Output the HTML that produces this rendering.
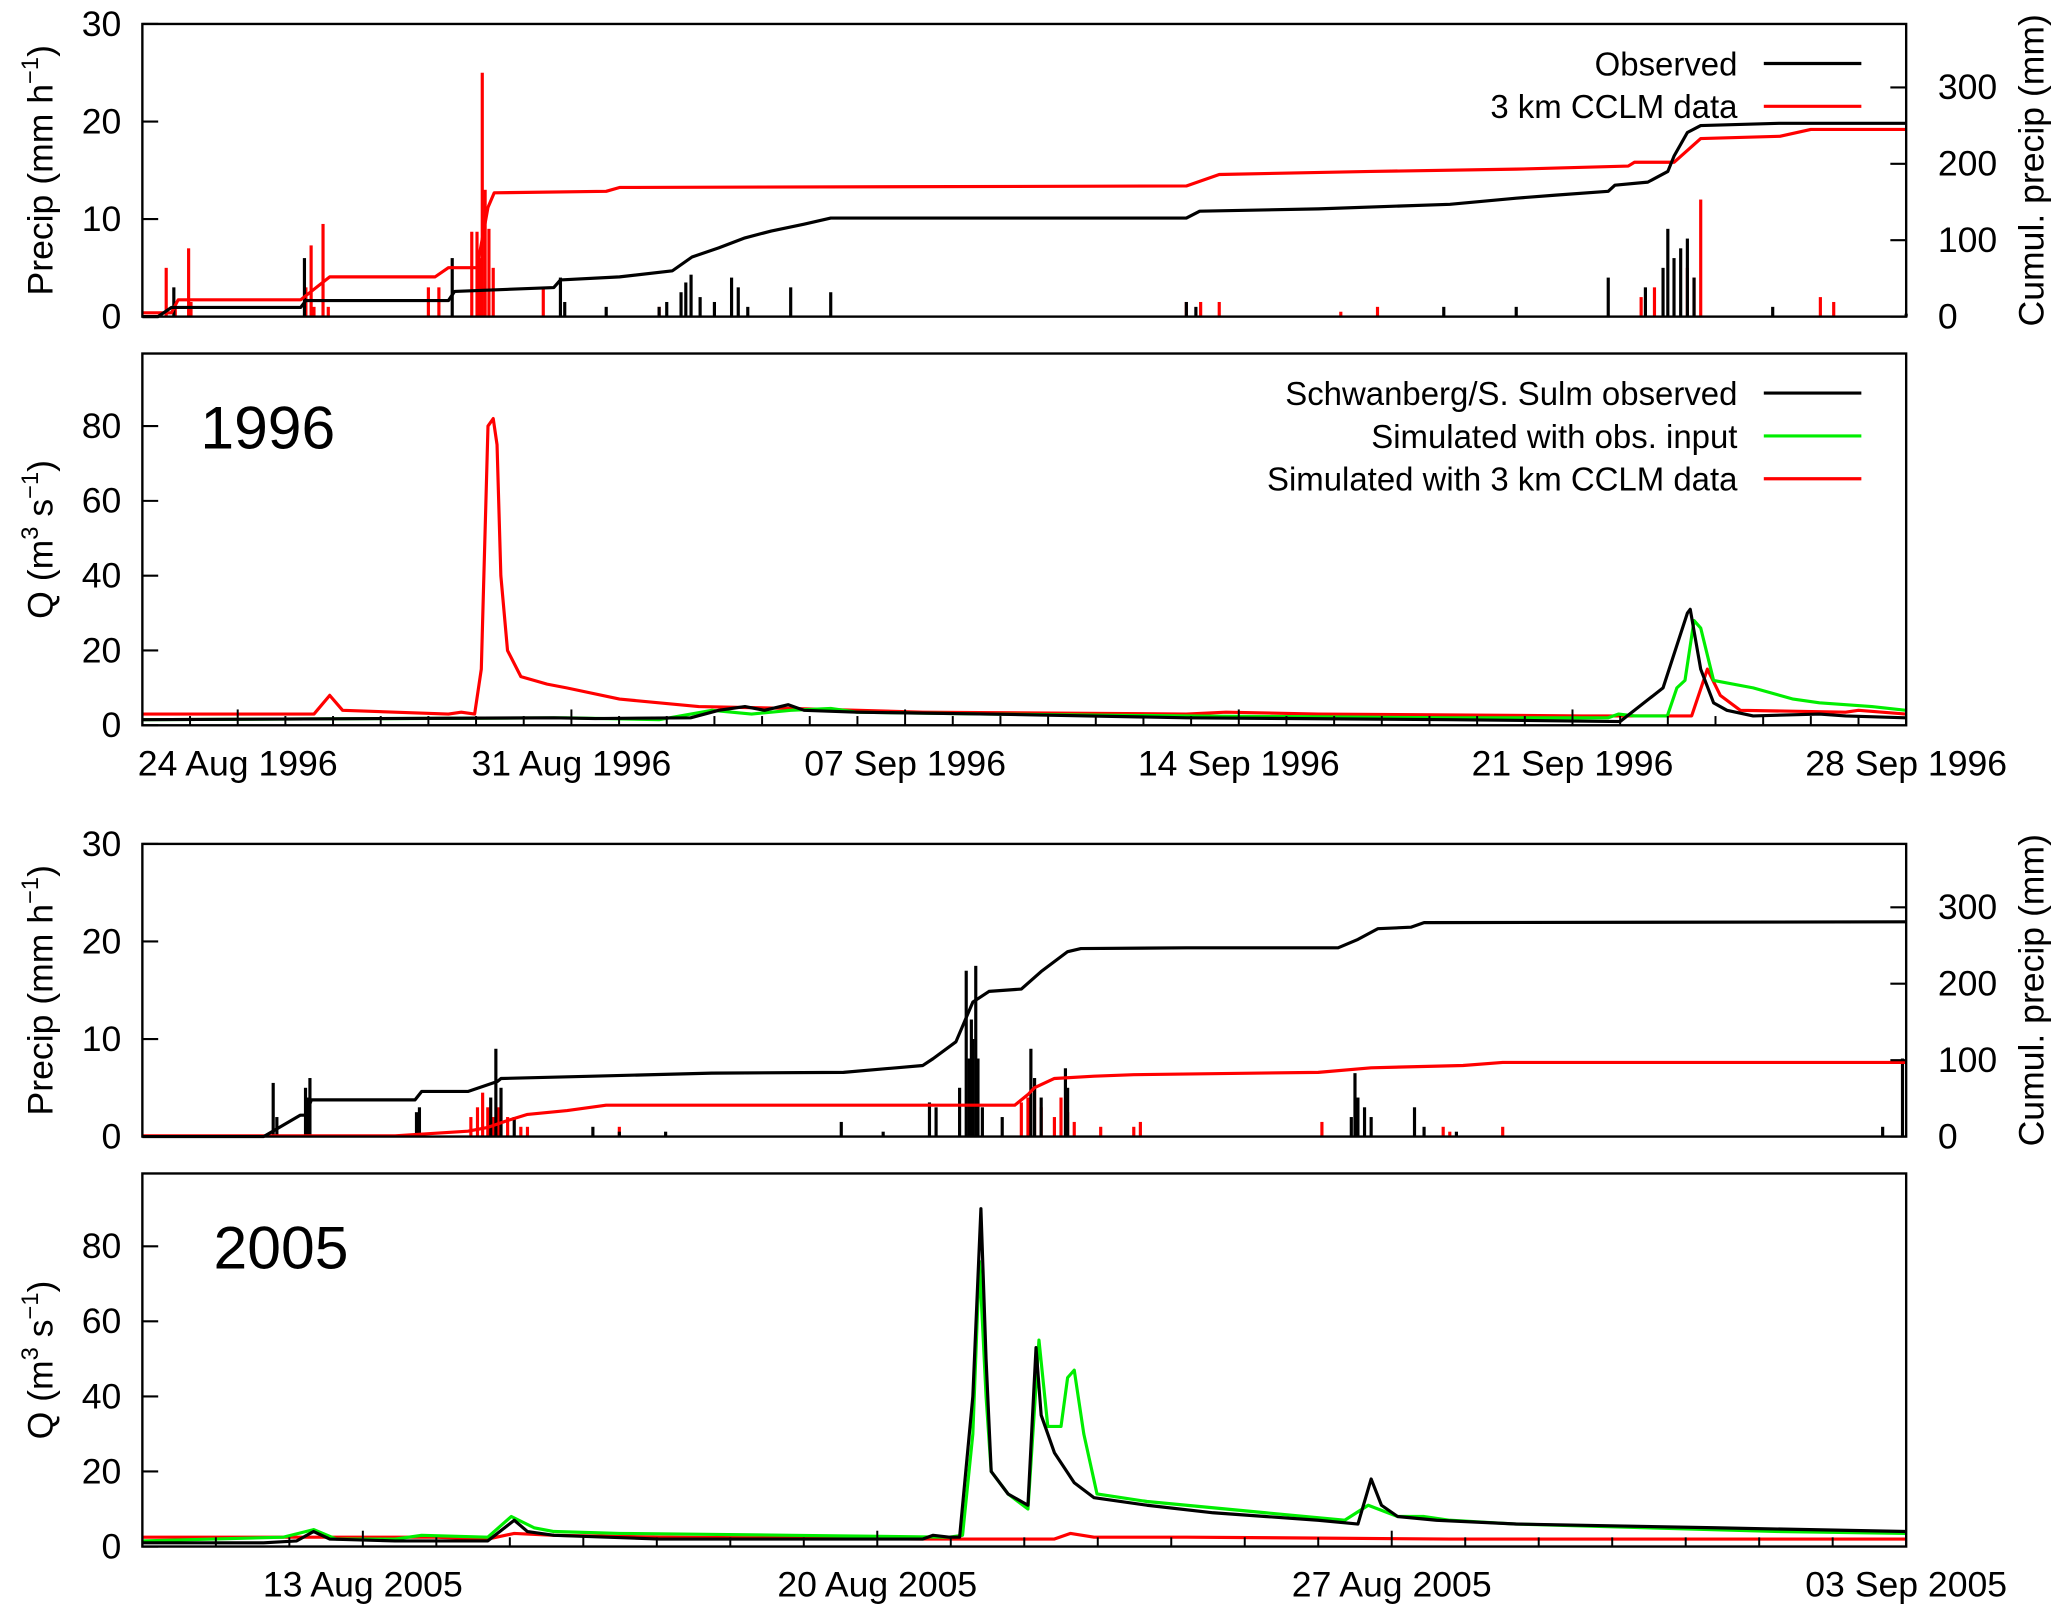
<!DOCTYPE html>
<html><head><meta charset="utf-8"><style>
html,body{margin:0;padding:0;background:#fff}
svg{display:block;font-family:"Liberation Sans",sans-serif}
</style></head><body>
<svg id="chart" width="2067" height="1614" viewBox="0 0 1568 1224" xmlns="http://www.w3.org/2000/svg"></svg>
<script>
// ===== 1996 data (day 0 = 22 Aug 1996 00:00) =====
const obsCum96=[[0,0],[0.33,0],[0.61,12],[3.32,12],[3.43,21],[6.42,21],[6.55,33],[8.63,38],[8.77,48],[10.01,52],[11.12,60],[11.53,78],[12.09,90],[12.64,103],[13.19,112],[13.88,121],[14.44,129],[21.9,129],[22.18,138],[24.67,141],[27.43,147],[28.82,155],[29.65,159],[30.75,164],[30.89,172],[31.58,176],[32.0,190],[32.13,210],[32.41,241],[32.69,250],[34.35,253],[37,253]];
const cclmCum96=[[0,5],[0.61,5],[0.75,22],[3.32,22],[3.93,52],[6.14,52],[6.42,64],[7.02,64],[7.25,143],[7.38,162],[9.73,164],[10.01,169],[21.9,171],[22.59,186],[25.77,190],[28.82,193],[31.17,197],[31.3,202],[32.13,202],[32.69,233],[34.35,236],[35.0,245],[37,245]];
const obsBars96=[[0.66,3],[3.4,6],[6.5,6],[8.77,4],[8.86,1.5],[9.73,1],[10.84,1],[11.0,1.5],[11.3,2.5],[11.4,3.5],[11.51,4.3],[11.7,2],[12.0,1.5],[12.36,4],[12.5,3],[12.7,1],[13.6,3],[14.44,2.5],[21.9,1.5],[22.1,1],[27.3,1],[28.82,1],[30.75,4],[31.53,3],[31.9,5],[32.0,9],[32.13,6],[32.27,7],[32.41,8],[32.55,4],[34.2,1],[37.0,0.3]];
const cclmBars96=[[0.5,5],[0.69,1],[0.97,7],[1.02,1.5],[3.43,3],[3.54,7.3],[3.6,1],[3.79,9.5],[3.9,1],[6.0,3],[6.22,3],[6.91,8.7],[7.02,8.7],[7.08,6],[7.13,25],[7.19,13],[7.27,9],[7.36,5],[8.41,3],[10.84,1],[21.9,1.5],[22.2,1.5],[22.59,1.5],[25.14,0.5],[25.91,1],[31.44,2],[31.72,3],[32.41,5],[32.55,4],[32.69,12],[35.2,2],[35.48,1.5]];
const obsQ96=[[0,1.5],[8.63,2],[9.5,1.8],[11.5,2],[12.09,4],[12.64,5],[13.05,4],[13.55,5.5],[13.88,4],[14.99,3.5],[17.75,3],[21.9,2],[27.43,1.5],[31.0,1],[31.9,10],[32.41,30],[32.47,31],[32.69,15],[32.96,6],[33.24,4],[33.79,2.5],[35.18,3],[35.73,2.5],[37,2]];
const simObsQ96=[[0,1.5],[8.9,2],[10.84,1.5],[11.95,4],[12.78,3],[13.6,4],[14.44,4.5],[14.99,3.5],[17.75,3],[21.9,2.5],[27.43,2],[30.75,2],[30.97,3],[31.3,2.5],[31.99,2.5],[32.19,10],[32.36,12],[32.55,28],[32.69,26],[32.96,12],[33.79,10],[34.63,7],[35.18,6],[36.28,5],[37,4]];
const cclmQ96=[[0,3],[3.6,3],[3.93,8],[4.2,4],[6.42,3],[6.69,3.5],[6.97,3],[7.11,15],[7.25,80],[7.36,82],[7.44,75],[7.52,40],[7.66,20],[7.94,13],[8.49,11],[8.9,10],[10.01,7],[11.67,5],[13.6,4.5],[16.37,3.5],[21.9,3],[22.73,3.5],[24.67,3],[30.2,2.5],[32.5,2.5],[32.83,15],[33.1,8],[33.52,4],[35.73,3.5],[36.0,4],[37,3]];
// ===== 2005 data (day 0 = 10 Aug 2005 00:00) =====
const obsCum05=[[0,0],[1.65,0],[1.74,5],[1.83,10],[2.15,28],[2.22,28],[2.30,48],[3.71,48],[3.80,59],[4.43,59],[4.83,72],[4.88,76],[6.13,79],[7.75,83],[9.54,84],[10.26,90],[10.62,93],[10.76,102],[11.07,124],[11.30,176],[11.52,190],[11.96,193],[12.23,216],[12.59,242],[12.77,246],[14.21,247],[16.27,247],[16.54,258],[16.81,272],[17.26,274],[17.44,280],[24,281]];
const cclmCum05=[[0,1],[3.44,1],[4.43,7],[4.70,12],[4.97,21],[5.24,29],[5.78,34],[6.31,41],[11.87,41],[12.05,55],[12.14,64],[12.41,76],[12.95,79],[13.49,81],[16.0,84],[16.72,90],[17.97,93],[18.51,97],[24,97]];
const obsBars05=[[1.78,5.5],[1.83,2],[2.22,5],[2.24,4],[2.28,6],[3.73,2.5],[3.77,3],[4.74,4],[4.81,9],[4.88,5],[5.06,2],[6.13,1],[6.49,0.5],[7.12,0.5],[9.51,1.5],[10.08,0.5],[10.71,3.5],[10.80,3],[11.12,5],[11.21,17],[11.25,8],[11.28,12],[11.30,10],[11.34,17.5],[11.37,8],[11.43,3],[11.70,2],[12.09,9],[12.14,6],[12.23,4],[12.56,7],[12.59,5],[16.45,2],[16.50,6.5],[16.54,4],[16.63,3],[16.72,2],[17.31,3],[17.44,1],[17.88,0.5],[23.68,1],[23.95,8]];
const cclmBars05=[[4.47,2],[4.56,3],[4.63,4.5],[4.70,3],[4.77,2],[4.84,3],[4.97,2],[5.15,1],[5.24,1],[6.49,1],[11.96,3.5],[12.05,4],[12.14,5],[12.23,3],[12.41,2],[12.50,4],[12.59,2.5],[12.68,1.5],[13.04,1],[13.49,1],[13.58,1.5],[16.05,1.5],[17.70,1],[17.79,0.5],[18.51,1]];
const obsQ05=[[0,1],[1.65,1],[2.10,1.5],[2.33,4],[2.55,2],[3.44,1.5],[4.70,1.5],[5.06,7],[5.24,4],[5.60,3],[7.03,2],[10.62,2],[10.76,3],[10.98,2.5],[11.12,2.5],[11.30,40],[11.41,90],[11.48,50],[11.55,20],[11.78,14],[12.05,11],[12.16,53],[12.23,35],[12.41,25],[12.68,17],[12.95,13],[13.67,11],[14.57,9],[15.28,8],[16.0,7],[16.54,6],[16.72,18],[16.86,11],[17.08,8],[17.61,7],[18.69,6],[21.38,5],[24,4]];
const simObsQ05=[[0,1.5],[1.92,2.5],[2.33,4.5],[2.64,2],[3.44,2],[3.80,3],[4.70,2.5],[5.02,8],[5.33,5],[5.60,4],[6.49,3.5],[8.83,3],[10.98,2.5],[11.16,3],[11.30,30],[11.39,76],[11.48,40],[11.55,20],[11.78,14],[12.05,10],[12.20,55],[12.32,32],[12.50,32],[12.59,45],[12.68,47],[12.81,30],[12.99,14],[13.67,12],[15.28,9],[16.36,7],[16.68,11],[17.08,8],[17.44,8],[17.79,7],[18.69,6],[20.48,5],[22.28,4],[24,3.5]];
const cclmQ05=[[0,2.5],[3.98,2.5],[4.70,2],[5.06,3.5],[5.60,3],[7.03,2.5],[10.62,2],[12.41,2],[12.63,3.5],[12.95,2.5],[14.21,2.5],[17.79,2],[24,2]];
// ===== ticks =====
const precipTicks=[0,10,20,30];
const cumTicks=[0,100,200,300];
const qTicks=[0,20,40,60,80];
const dateLabels96=["24 Aug 1996","31 Aug 1996","07 Sep 1996","14 Sep 1996","21 Sep 1996","28 Sep 1996"];
const dateDays96=[2,9,16,23,30,37];
const dateLabels05=["13 Aug 2005","20 Aug 2005","27 Aug 2005","03 Sep 2005"];
const dateDays05=[3,10,17,24];

const svg=document.getElementById('chart');
const NS='http://www.w3.org/2000/svg';
function mk(tag,attrs,parent,text){const e=document.createElementNS(NS,tag);for(const k in attrs)e.setAttribute(k,attrs[k]);if(text!==undefined)e.textContent=text;(parent||svg).appendChild(e);return e;}
const X0=108,X1=1446;
function xs(nDays){return d=>X0+d*(X1-X0)/nDays;}
function ys(top,bot,max){return v=>bot-v*(bot-top)/max;}
const RED='#ff0000',GREEN='#00ee00',BLACK='#000';

function line(g,data,x,y,color,name){
  const d=data.map((p,i)=>(i?'L':'M')+x(p[0]).toFixed(2)+' '+y(p[1]).toFixed(2)).join('');
  const p=mk('path',{d:d,fill:'none',stroke:color,'stroke-width':2.4,'stroke-linejoin':'round'},g);
  
  
}
function bars(g,data,x,y,color,nDays,name){
  const grp=mk('g',{},g);
  
  
  const w=Math.max(2.4,(X1-X0)/nDays/24);
  data.forEach(p=>{const r=mk('rect',{x:(x(p[0])-w/2).toFixed(2),y:y(p[1]).toFixed(2),width:w.toFixed(2),height:(y(0)-y(p[1])).toFixed(2),fill:color},grp);
    
    });
}
function frame(g,top,bot,name){
  const r=mk('rect',{x:X0,y:top,width:X1-X0,height:bot-top,fill:'none',stroke:'#000','stroke-width':1.8},g);
  
  
}
function leftTicks(g,ticks,y){
  ticks.forEach(t=>{mk('line',{x1:X0,x2:X0+12,y1:y(t),y2:y(t),stroke:'#000','stroke-width':1.6},g);
    const tx=mk('text',{x:92,y:y(t)+9,'text-anchor':'end','font-size':27},g,String(t));
    
    });
}
function rightTicks(g,ticks,y){
  ticks.forEach(t=>{mk('line',{x1:X1-12,x2:X1,y1:y(t),y2:y(t),stroke:'#000','stroke-width':1.6},g);
    const tx=mk('text',{x:1470,y:y(t)+9,'font-size':27},g,String(t));
    
    });
}
function dayTicks(g,nDays,bot,majors,labels,x){
  for(let d=1;d<nDays;d++){const maj=majors.includes(d);
    mk('line',{x1:x(d),x2:x(d),y1:bot,y2:bot-(maj?12:7),stroke:'#000','stroke-width':1.5},g);}
  majors.forEach((d,i)=>{const t=mk('text',{x:x(d),y:bot+38,'text-anchor':'middle','font-size':27},g,labels[i]);
    
    });
}
function ylabel(g,cx,cy,kind){
  const t=mk('text',{transform:`translate(${cx},${cy}) rotate(-90)`,'text-anchor':'middle','font-size':27},g);
  if(kind==='precip'){t.appendChild(document.createTextNode('Precip (mm h'));mk('tspan',{dy:-11,'font-size':18},t,'−1');mk('tspan',{dy:11},t,')');}
  else if(kind==='q'){t.appendChild(document.createTextNode('Q (m'));mk('tspan',{dy:-11,'font-size':18},t,'3');mk('tspan',{dy:11},t,' s');mk('tspan',{dy:-11,'font-size':18},t,'−1');mk('tspan',{dy:11},t,')');}
  else {t.textContent='Cumul. precip (mm)';}
  
}
function legend(g,items,y0){
  items.forEach((it,i)=>{const y=y0+i*32.5;
    const t=mk('text',{x:1318,y:y+9,'text-anchor':'end','font-size':25},g,it[0]);
    
    
    const l=mk('line',{x1:1338,x2:1412,y1:y,y2:y,stroke:it[1],'stroke-width':2.4},g);
    
    });
}
function precipPanel(top,bot,nDays,oc,cc,ob,cb,name,withLegend){
  const g=mk('g',{});
  const x=xs(nDays),yp=ys(top,bot,30),yc=ys(top,bot,383);
  bars(g,cb,x,yp,RED,nDays,'cclm-precip-bars');
  bars(g,ob,x,yp,BLACK,nDays,'observed-precip-bars');
  line(g,cc,x,yc,RED,'cclm-cumulative-line');
  line(g,oc,x,yc,BLACK,'observed-cumulative-line');
  frame(g,top,bot,'plot-frame');
  leftTicks(g,precipTicks,yp);
  rightTicks(g,cumTicks,yc);
  ylabel(g,40,(top+bot)/2,'precip');
  ylabel(g,1550,(top+bot)/2,'cum');
  if(withLegend)legend(g,[['Observed',BLACK],['3 km CCLM data',RED]],48);
}
function qPanel(top,bot,nDays,o,s,c,name,year,yx,yy,majors,labels,withLegend){
  const g=mk('g',{});
  const x=xs(nDays),y=ys(top,bot,99.4);
  line(g,c,x,y,RED,'sim-cclm-discharge');
  line(g,s,x,y,GREEN,'sim-obs-discharge');
  line(g,o,x,y,BLACK,'observed-discharge');
  frame(g,top,bot,'plot-frame');
  leftTicks(g,qTicks,y);
  dayTicks(g,nDays,bot,majors,labels,x);
  ylabel(g,40,(top+bot)/2,'q');
  const t=mk('text',{x:yx,y:yy,'font-size':46},g,year);
  if(withLegend)legend(g,[['Schwanberg/S. Sulm observed',BLACK],['Simulated with obs. input',GREEN],['Simulated with 3 km CCLM data',RED]],298);
}
precipPanel(18,240,37,obsCum96,cclmCum96,obsBars96,cclmBars96,'precip-panel-1996',true);
qPanel(268,550,37,obsQ96,simObsQ96,cclmQ96,'discharge-panel-1996','1996',152,340,dateDays96,dateLabels96,true);
precipPanel(640,862,24,obsCum05,cclmCum05,obsBars05,cclmBars05,'precip-panel-2005',false);
qPanel(890,1173,24,obsQ05,simObsQ05,cclmQ05,'discharge-panel-2005','2005',162,962,dateDays05,dateLabels05,false);
</script>
</body></html>
